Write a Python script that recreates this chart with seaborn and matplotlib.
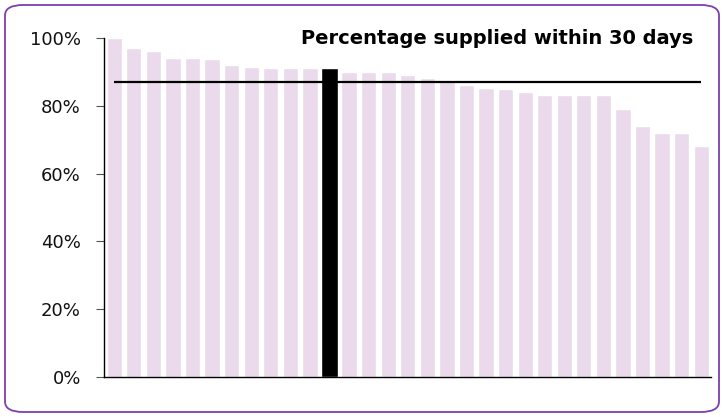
import matplotlib
matplotlib.use("Agg")
import matplotlib.pyplot as plt
import seaborn as sns
import pandas as pd
from matplotlib.patches import FancyBboxPatch
from matplotlib.ticker import PercentFormatter

# ---- data ----
categories = [f"C{i+1}" for i in range(31)]
values = [100.0, 97.2, 96.2, 94.1, 94.1, 93.9, 92.1, 91.6, 91.2, 91.2, 91.2,
          91.2, 90.0, 90.0, 90.0, 89.2, 88.4, 87.4, 86.2, 85.2, 85.0, 84.0,
          83.2, 83.2, 83.2, 83.2, 79.1, 74.1, 72.1, 72.1, 68.2]
highlight = "C12"
reference_value = 87.0
title_text = "Percentage supplied within 30 days"
yticks = [0, 20, 40, 60, 80, 100]

df = pd.DataFrame({"cat": categories, "val": values})
df["hl"] = df["cat"] == highlight

sns.set_theme(style="white")
plt.rcParams["font.family"] = ["DejaVu Sans"]

fig = plt.figure(figsize=(7.24, 4.17), dpi=100)
ax = fig.add_axes([0.1443, 0.0966, 0.8378, 0.8115])

pink = "#EBDAEB"
sns.barplot(data=df[~df["hl"]], x="cat", y="val", order=categories,
            color=pink, width=0.78, ax=ax, saturation=1)
sns.barplot(data=df[df["hl"]], x="cat", y="val", order=categories,
            color="black", width=0.88, ax=ax, saturation=1)

ax.hlines(reference_value, 0, len(categories) - 1, color="black", linewidth=1.6, zorder=5)

ax.set_xlim(-0.5, len(categories) - 0.5)
ax.set_ylim(0, 100)
ax.set_yticks(yticks)
ax.yaxis.set_major_formatter(PercentFormatter(decimals=0))
ax.set_xticks([])
ax.set_xlabel("")
ax.set_ylabel("")
for s in ["top", "right"]:
    ax.spines[s].set_visible(False)
for s in ["left", "bottom"]:
    ax.spines[s].set_color("black")
    ax.spines[s].set_linewidth(1.0)
ax.tick_params(axis="y", which="major", left=True, length=6, width=0.8,
               color="#555555", labelsize=13, labelcolor="#111111", pad=11)

ax.text(0.97, 1.0, title_text, transform=ax.transAxes, ha="right", va="center",
        fontsize=14, fontweight="bold", color="black")

frame = FancyBboxPatch((5 / 724, 5 / 417), 714 / 724, 407 / 417,
                       boxstyle="round,pad=0,rounding_size=0.025",
                       transform=fig.transFigure, fill=False,
                       edgecolor="#7B3FB0", linewidth=1.3, zorder=10)
fig.patches.append(frame)

fig.savefig("out.png", dpi=100)
